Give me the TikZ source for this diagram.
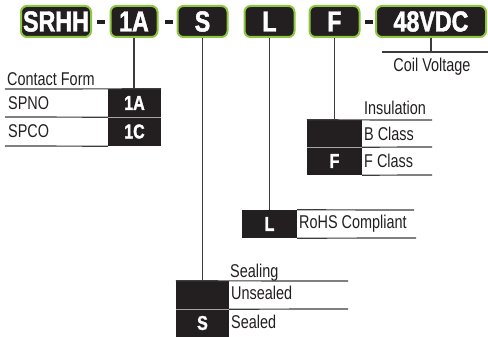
\documentclass[tikz,border=0pt]{standalone}
\usepackage{fontspec}
\setmainfont{Liberation Sans}[FakeStretch=0.78]
\newfontfamily\codefont{Liberation Sans Bold}[FakeStretch=0.8,FakeBold=1.5]
\definecolor{boxgreen}{RGB}{141,198,63}
\definecolor{boxblack}{RGB}{35,31,32}
\definecolor{rulegray}{RGB}{60,60,60}

\begin{document}
\begin{tikzpicture}[x=1pt,y=-1pt,
    part/.style={draw=boxgreen, line width=2pt, fill=boxblack, rounded corners=6pt, text=white,
        font=\codefont\fontsize{29}{29}\selectfont, minimum height=31pt, inner sep=0pt},
    hyphen/.style={fill=boxblack, minimum width=8pt, minimum height=4pt, inner sep=0pt},
    cell/.style={fill=boxblack, text=white, font=\codefont\fontsize{20}{20}\selectfont,
        inner sep=0pt, minimum width=53pt},
    desc/.style={anchor=base west, inner sep=0pt, text=boxblack, font=\fontsize{18.5}{18.5}\selectfont},
    link/.style={draw=rulegray, line width=1.2pt},
    sep/.style={draw=gray!70, line width=1.2pt}]
    \useasboundingbox (0,0) rectangle (488,337);
    % Part number
    \node[part, minimum width=70pt] (srhh) at (56,21.5) {SRHH};
    \node[hyphen] (d1) at (101,22) {};
    \node[part, minimum width=47pt] (ca) at (134,21.5) {1A};
    \node[hyphen] (d2) at (169,22) {};
    \node[part, minimum width=50pt] (cs) at (202.5,21.5) {S};
    \node[part, minimum width=50pt] (cl) at (269.5,21.5) {L};
    \node[part, minimum width=50pt] (cf) at (334.5,21.5) {F};
    \node[hyphen] (d3) at (369,22) {};
    \node[part, minimum width=110pt] (cv) at (431,21.5) {48VDC};
    % Code cells
    \node[cell, minimum height=28pt] (c1A) at (134.5,103) {1A};
    \node[cell, minimum height=29pt] (c1C) at (134.5,131.5) {1C};
    \node[cell, minimum width=55pt, minimum height=27pt] (iB) at (334.5,133.5) {};
    \node[cell, minimum width=55pt, minimum height=28pt] (iF) at (334.5,161) {F};
    \node[cell, minimum width=55pt, minimum height=28pt] (rL) at (269.5,224) {L};
    \node[cell, minimum height=28pt] (sU) at (202.5,295) {};
    \node[cell, minimum height=28pt] (sS) at (202.5,323) {S};
    % Texts
    \node[desc] (cft) at (7,85) {Contact Form};
    \node[desc] (spno) at (8,109.5) {SPNO};
    \node[desc] (spco) at (8,138) {SPCO};
    \node[desc] (inst) at (364,115) {Insulation};
    \node[desc] (bcl) at (364,140) {B Class};
    \node[desc] (fcl) at (364,167.5) {F Class};
    \node[desc] (rohs) at (299,228.5) {RoHS Compliant};
    \node[desc] (seal) at (230,277) {Sealing};
    \node[desc] (unse) at (231,299.5) {Unsealed};
    \node[desc] (sld) at (231,328) {Sealed};
    \node[desc, anchor=base] (cvt) at (432,72) {Coil Voltage};
    % Table rules
    \draw[link] (5,89) -- (c1A.north east);
    \draw[link] (5,117) -- (c1A.south west);
    \draw[sep] (c1A.south west) -- (c1A.south east);
    \draw[link] (5,146) -- (c1C.south west);
    \draw[link] (iB.north west) -- (432,120);
    \draw[link] (iB.south east) -- (432,147);
    \draw[sep] (iB.south west) -- (iB.south east);
    \draw[link] (iF.south east) -- (432,175);
    \draw[link] (rL.north east) -- (414,210);
    \draw[link] (rL.south east) -- (416,238);
    \draw[link] (sU.north west) -- (348,281);
    \draw[link] (sU.south east) -- (348,309);
    \draw[sep] (sU.south west) -- (sU.south east);
    % Edges
    \draw[link] (ca.south) -- (ca.south |- c1A.north);
    \draw[link] (cs.south) -- (sU.north);
    \draw[link] (cl.south) -- (rL.north);
    \draw[link] (cf.south) -- (iB.north);
    \coordinate (cvl) at (382,52);
    \coordinate (cvr) at (488,52);
    \draw[link] (cv.south) -- (cv.south |- cvl);
    \draw[link] (cvl) -- (cvr);
\end{tikzpicture}
\end{document}
